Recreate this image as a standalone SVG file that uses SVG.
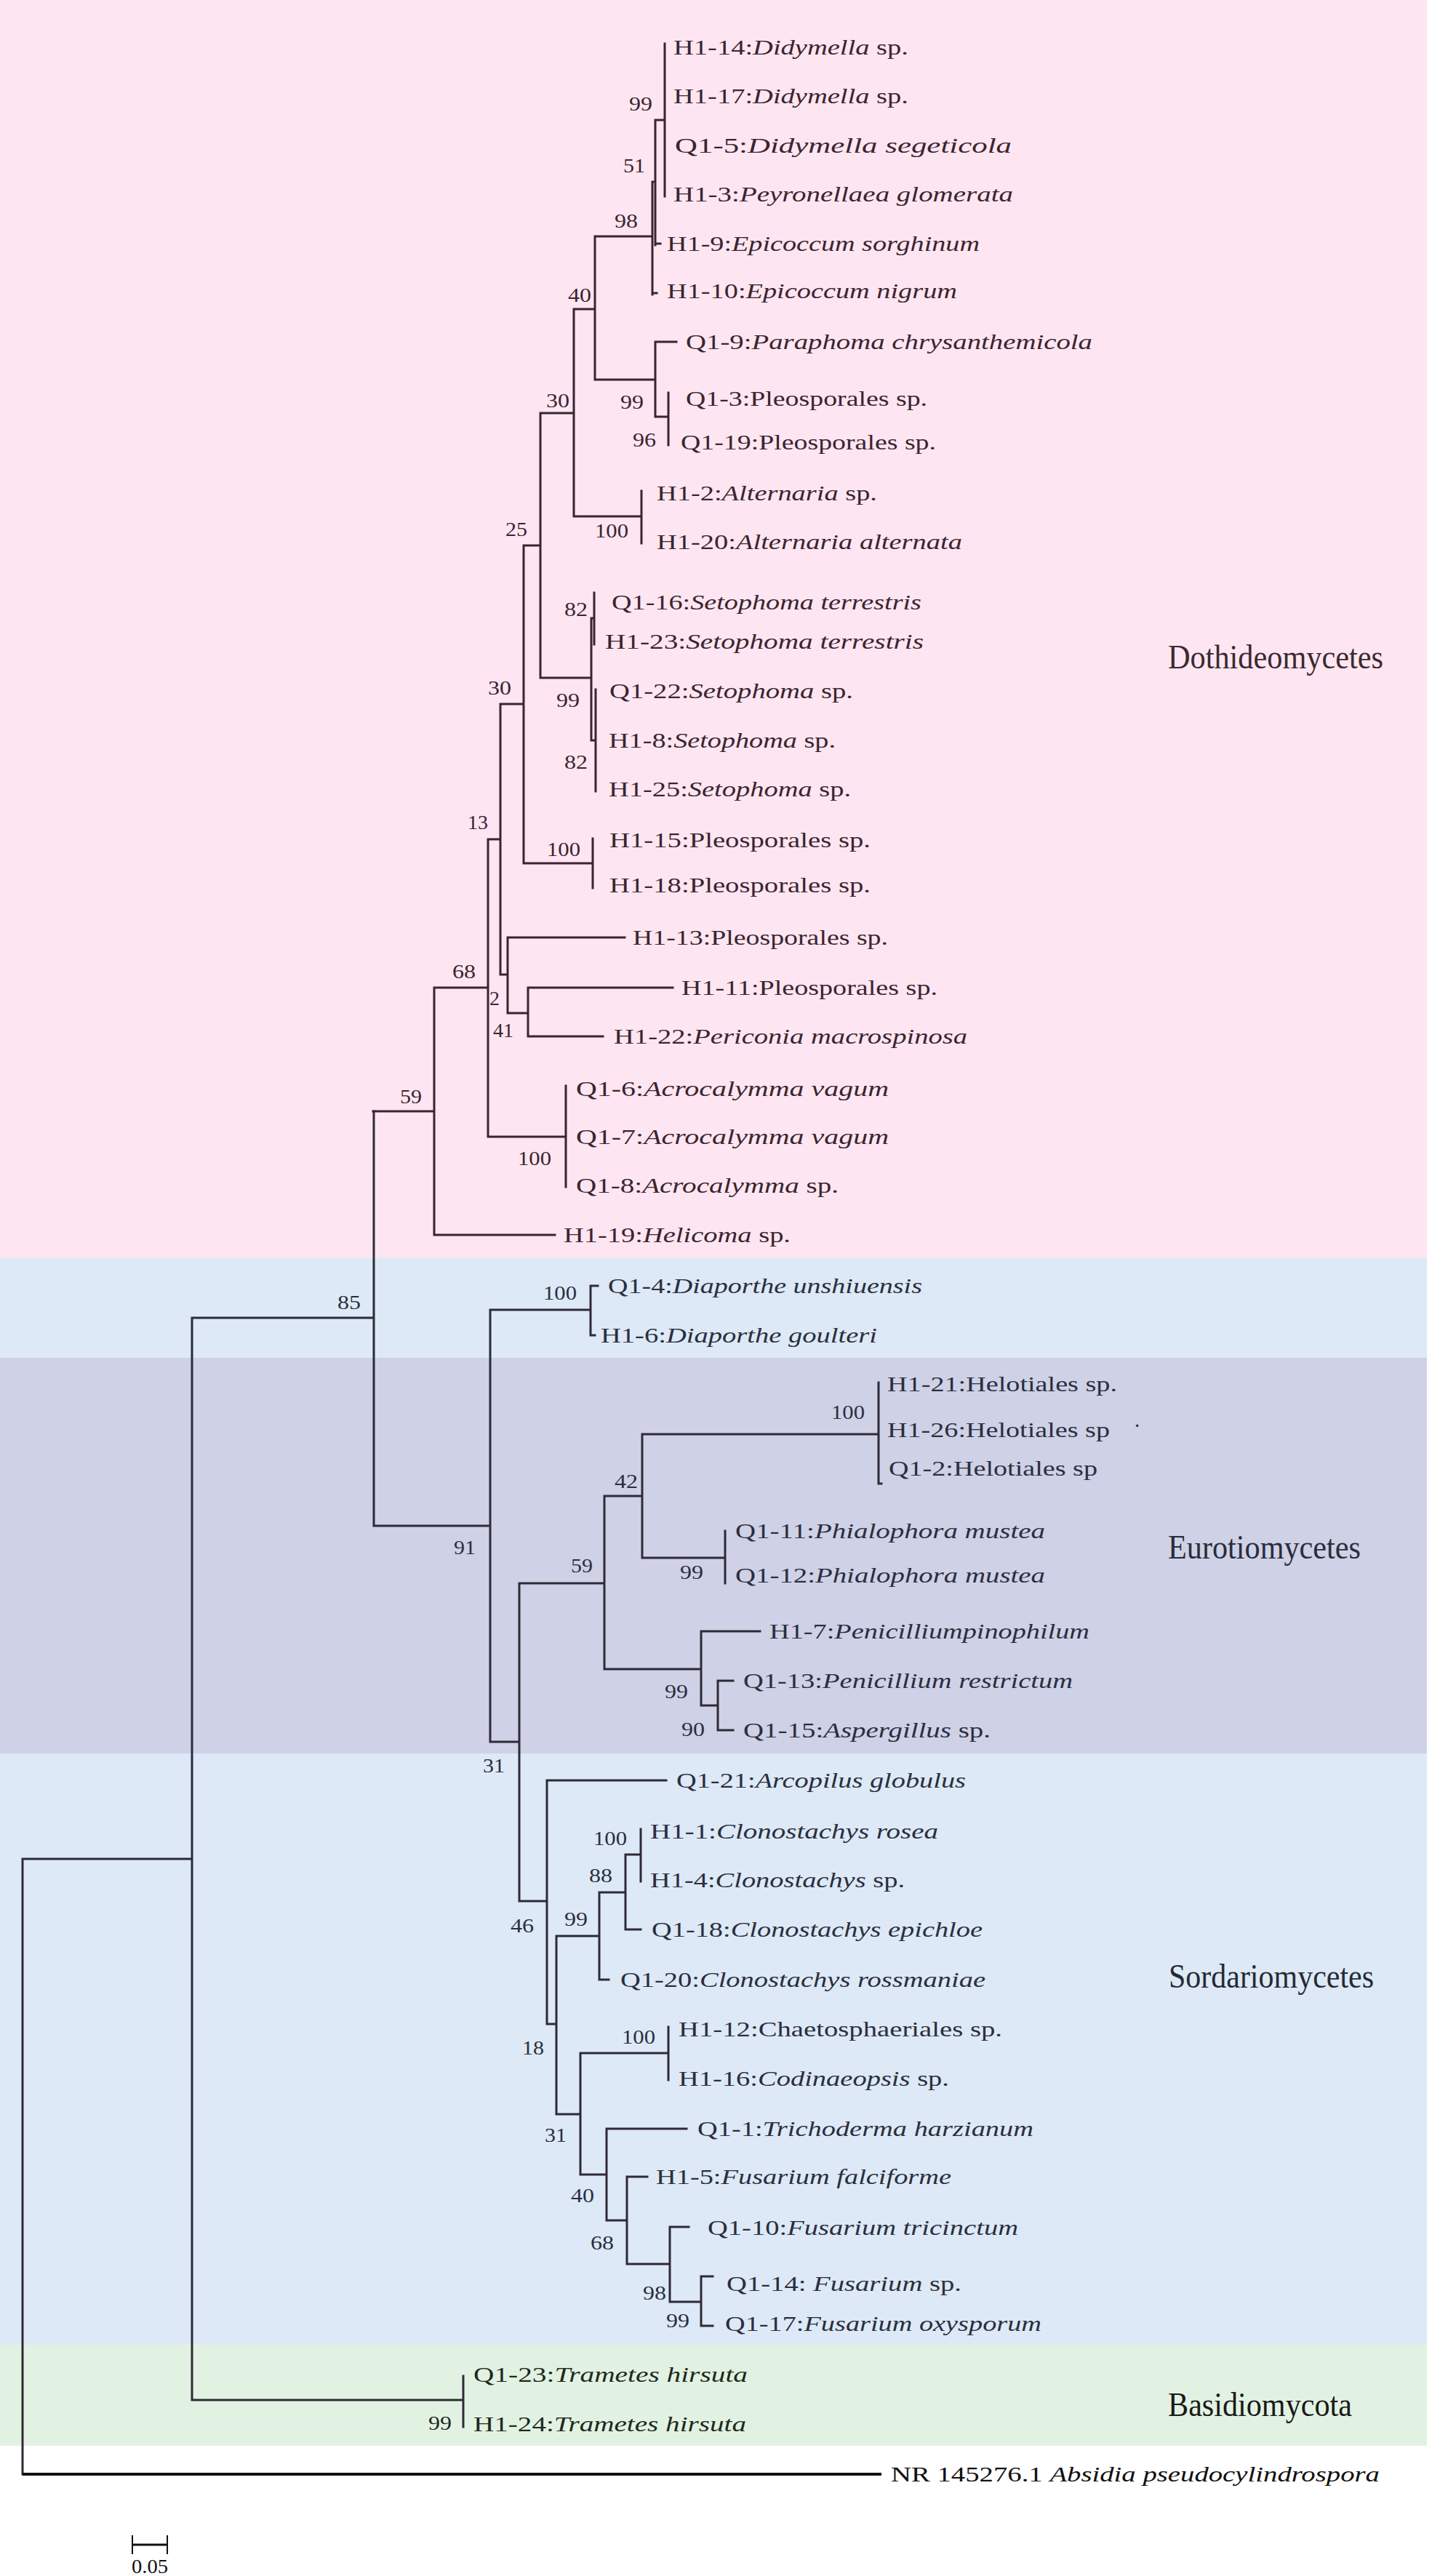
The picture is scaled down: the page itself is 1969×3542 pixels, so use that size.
<svg xmlns="http://www.w3.org/2000/svg" width="1969" height="3542" viewBox="0 0 1969 3542">
<style>
.br{fill:none;stroke:#2e2a36;stroke-width:3;stroke-linecap:square}
.brd{fill:none;stroke:#3a2430;stroke-width:3;stroke-linecap:square}
.lf{font-family:"Liberation Serif","Times New Roman",serif;font-size:29px;fill:#2a2f3f}
.lfd{font-family:"Liberation Serif","Times New Roman",serif;font-size:29px;fill:#3b2530}
.bs{font-family:"Liberation Serif","Times New Roman",serif;font-size:27px;fill:#2a2f3f;text-anchor:middle}
.bsd{font-family:"Liberation Serif","Times New Roman",serif;font-size:27px;fill:#3b2530;text-anchor:middle}
.cl{font-family:"Liberation Serif","Times New Roman",serif;font-size:47px;fill:#2a2d3a}
.i{font-style:italic}
</style>
<g id="background">
<rect x="0" y="0" width="1962" height="1730" fill="#fde6f1"/>
<rect x="0" y="1730" width="1962" height="137" fill="#dde9f6"/>
<rect x="0" y="1867" width="1962" height="544" fill="#cfd1e6"/>
<rect x="0" y="2411" width="1962" height="813" fill="#dde9f6"/>
<rect x="0" y="3224" width="1962" height="139" fill="#e2f2e2"/>
</g>
<g id="connectors">
<path class="brd" d="M901 165H914M914 60V270M897 250H901M901 165V337M901 335H908M818 325H897M897 250V405M897 403H903M791 425H818M818 325V522M818 522H901M901 470V573M901 470H930M901 573H919M919 540V612M743 568H789M789 425V710M789 710H882M882 675V747M721 750H743M743 568V932M743 932H813M813 850V1018M813 850H817M817 815V886M813 1018H819M819 948V1088M690 968H720M720 750V1187M720 1187H815M815 1153V1221M671 1154H688M688 968V1340M688 1340H698M698 1289V1393M698 1289H859M698 1393H726M726 1358V1425M726 1358H925M726 1425H829M597 1358H671M671 1154V1563M671 1563H778M778 1493V1632M513 1528H597M597 1358V1698M597 1698H763"/>
<path class="br" d="M264 1812H514M514 1528V2098M514 2098H674M674 1801V2395M674 1801H812M812 1768V1836M812 1768H822M812 1836H818M674 2395H714M714 2177V2614M714 2177H831M831 2057V2295M831 2057H883M883 1972V2142M883 1972H1208M1208 1901V2040M1208 2040H1212M883 2142H997M997 2105V2177M831 2295H964M964 2243V2345M964 2243H1045M964 2345H987M987 2311V2379M987 2311H1008M987 2379H1008M714 2614H752M752 2448V2783M752 2448H916M752 2783H765M765 2662V2907M765 2662H824M824 2602V2722M824 2722H837M824 2602H860M860 2550V2653M860 2653H881M860 2550H881M881 2515V2587M765 2907H798M798 2823V2990M798 2823H919M919 2787V2860M798 2990H834M834 2927V3053M834 2927H944M834 3053H862M862 2993V3113M862 2993H890M862 3113H921M921 3062V3165M921 3062H947M921 3165H964M964 3130V3198M964 3130H980M964 3198H980M264 3300H637M637 3267V3337M31 2556H264M264 1812V3300M31 2556V3402"/>
<path d="M31 3402H1212" fill="none" stroke="#111" stroke-width="4"/>
</g>
<g id="leaves-dothideomycetes">
<text id="n-H1-14" class="lfd" x="926" y="75" textLength="323" lengthAdjust="spacingAndGlyphs">H1-14:<tspan class="i">Didymella</tspan> sp.</text>
<text id="n-H1-17" class="lfd" x="926" y="142" textLength="323" lengthAdjust="spacingAndGlyphs">H1-17:<tspan class="i">Didymella</tspan> sp.</text>
<text id="n-Q1-5" class="lfd" x="928" y="210" textLength="463" lengthAdjust="spacingAndGlyphs">Q1-5:<tspan class="i">Didymella segeticola</tspan></text>
<text id="n-H1-3" class="lfd" x="926" y="277" textLength="467" lengthAdjust="spacingAndGlyphs">H1-3:<tspan class="i">Peyronellaea glomerata</tspan></text>
<text id="n-H1-9" class="lfd" x="917" y="345" textLength="430" lengthAdjust="spacingAndGlyphs">H1-9:<tspan class="i">Epicoccum sorghinum</tspan></text>
<text id="n-H1-10" class="lfd" x="917" y="410" textLength="399" lengthAdjust="spacingAndGlyphs">H1-10:<tspan class="i">Epicoccum nigrum</tspan></text>
<text id="n-Q1-9" class="lfd" x="943" y="480" textLength="559" lengthAdjust="spacingAndGlyphs">Q1-9:<tspan class="i">Paraphoma chrysanthemicola</tspan></text>
<text id="n-Q1-3" class="lfd" x="943" y="558" textLength="332" lengthAdjust="spacingAndGlyphs">Q1-3:Pleosporales sp.</text>
<text id="n-Q1-19" class="lfd" x="936" y="618" textLength="351" lengthAdjust="spacingAndGlyphs">Q1-19:Pleosporales sp.</text>
<text id="n-H1-2" class="lfd" x="903" y="688" textLength="303" lengthAdjust="spacingAndGlyphs">H1-2:<tspan class="i">Alternaria</tspan> sp.</text>
<text id="n-H1-20" class="lfd" x="903" y="755" textLength="420" lengthAdjust="spacingAndGlyphs">H1-20:<tspan class="i">Alternaria alternata</tspan></text>
<text id="n-Q1-16" class="lfd" x="841" y="838" textLength="426" lengthAdjust="spacingAndGlyphs">Q1-16:<tspan class="i">Setophoma terrestris</tspan></text>
<text id="n-H1-23" class="lfd" x="832" y="892" textLength="438" lengthAdjust="spacingAndGlyphs">H1-23:<tspan class="i">Setophoma terrestris</tspan></text>
<text id="n-Q1-22" class="lfd" x="838" y="960" textLength="335" lengthAdjust="spacingAndGlyphs">Q1-22:<tspan class="i">Setophoma</tspan> sp.</text>
<text id="n-H1-8" class="lfd" x="837" y="1028" textLength="312" lengthAdjust="spacingAndGlyphs">H1-8:<tspan class="i">Setophoma</tspan> sp.</text>
<text id="n-H1-25" class="lfd" x="837" y="1095" textLength="333" lengthAdjust="spacingAndGlyphs">H1-25:<tspan class="i">Setophoma</tspan> sp.</text>
<text id="n-H1-15" class="lfd" x="838" y="1165" textLength="359" lengthAdjust="spacingAndGlyphs">H1-15:Pleosporales sp.</text>
<text id="n-H1-18" class="lfd" x="838" y="1227" textLength="359" lengthAdjust="spacingAndGlyphs">H1-18:Pleosporales sp.</text>
<text id="n-H1-13" class="lfd" x="870" y="1299" textLength="351" lengthAdjust="spacingAndGlyphs">H1-13:Pleosporales sp.</text>
<text id="n-H1-11" class="lfd" x="937" y="1368" textLength="352" lengthAdjust="spacingAndGlyphs">H1-11:Pleosporales sp.</text>
<text id="n-H1-22" class="lfd" x="844" y="1435" textLength="486" lengthAdjust="spacingAndGlyphs">H1-22:<tspan class="i">Periconia macrospinosa</tspan></text>
<text id="n-Q1-6" class="lfd" x="792" y="1507" textLength="430" lengthAdjust="spacingAndGlyphs">Q1-6:<tspan class="i">Acrocalymma vagum</tspan></text>
<text id="n-Q1-7" class="lfd" x="792" y="1573" textLength="430" lengthAdjust="spacingAndGlyphs">Q1-7:<tspan class="i">Acrocalymma vagum</tspan></text>
<text id="n-Q1-8" class="lfd" x="792" y="1640" textLength="361" lengthAdjust="spacingAndGlyphs">Q1-8:<tspan class="i">Acrocalymma</tspan> sp.</text>
<text id="n-H1-19" class="lfd" x="775" y="1708" textLength="312" lengthAdjust="spacingAndGlyphs">H1-19:<tspan class="i">Helicoma</tspan> sp.</text>
</g>
<g id="leaves-other">
<text id="n-Q1-4" class="lf" x="836" y="1778" textLength="432" lengthAdjust="spacingAndGlyphs">Q1-4:<tspan class="i">Diaporthe unshiuensis</tspan></text>
<text id="n-H1-6" class="lf" x="826" y="1846" textLength="380" lengthAdjust="spacingAndGlyphs">H1-6:<tspan class="i">Diaporthe goulteri</tspan></text>
<text id="n-H1-21" class="lf" x="1220" y="1913" textLength="316" lengthAdjust="spacingAndGlyphs">H1-21:Helotiales sp.</text>
<text id="n-H1-26" class="lf" x="1220" y="1976" textLength="306" lengthAdjust="spacingAndGlyphs">H1-26:Helotiales sp</text>
<text id="dot" class="lf" x="1560" y="1962">.</text>
<text id="n-Q1-2" class="lf" x="1222" y="2029" textLength="287" lengthAdjust="spacingAndGlyphs">Q1-2:Helotiales sp</text>
<text id="n-Q1-11" class="lf" x="1011" y="2115" textLength="426" lengthAdjust="spacingAndGlyphs">Q1-11:<tspan class="i">Phialophora mustea</tspan></text>
<text id="n-Q1-12" class="lf" x="1011" y="2176" textLength="426" lengthAdjust="spacingAndGlyphs">Q1-12:<tspan class="i">Phialophora mustea</tspan></text>
<text id="n-H1-7" class="lf" x="1058" y="2253" textLength="440" lengthAdjust="spacingAndGlyphs">H1-7:<tspan class="i">Penicilliumpinophilum</tspan></text>
<text id="n-Q1-13" class="lf" x="1022" y="2321" textLength="453" lengthAdjust="spacingAndGlyphs">Q1-13:<tspan class="i">Penicillium restrictum</tspan></text>
<text id="n-Q1-15" class="lf" x="1022" y="2389" textLength="340" lengthAdjust="spacingAndGlyphs">Q1-15:<tspan class="i">Aspergillus</tspan> sp.</text>
<text id="n-Q1-21" class="lf" x="930" y="2458" textLength="398" lengthAdjust="spacingAndGlyphs">Q1-21:<tspan class="i">Arcopilus globulus</tspan></text>
<text id="n-H1-1" class="lf" x="894" y="2528" textLength="396" lengthAdjust="spacingAndGlyphs">H1-1:<tspan class="i">Clonostachys rosea</tspan></text>
<text id="n-H1-4" class="lf" x="894" y="2595" textLength="350" lengthAdjust="spacingAndGlyphs">H1-4:<tspan class="i">Clonostachys</tspan> sp.</text>
<text id="n-Q1-18" class="lf" x="896" y="2663" textLength="455" lengthAdjust="spacingAndGlyphs">Q1-18:<tspan class="i">Clonostachys epichloe</tspan></text>
<text id="n-Q1-20" class="lf" x="853" y="2732" textLength="502" lengthAdjust="spacingAndGlyphs">Q1-20:<tspan class="i">Clonostachys rossmaniae</tspan></text>
<text id="n-H1-12" class="lf" x="933" y="2800" textLength="445" lengthAdjust="spacingAndGlyphs">H1-12:Chaetosphaeriales sp.</text>
<text id="n-H1-16" class="lf" x="933" y="2868" textLength="372" lengthAdjust="spacingAndGlyphs">H1-16:<tspan class="i">Codinaeopsis</tspan> sp.</text>
<text id="n-Q1-1" class="lf" x="959" y="2937" textLength="462" lengthAdjust="spacingAndGlyphs">Q1-1:<tspan class="i">Trichoderma harzianum</tspan></text>
<text id="n-H1-5" class="lf" x="902" y="3003" textLength="406" lengthAdjust="spacingAndGlyphs">H1-5:<tspan class="i">Fusarium falciforme</tspan></text>
<text id="n-Q1-10" class="lf" x="973" y="3073" textLength="427" lengthAdjust="spacingAndGlyphs">Q1-10:<tspan class="i">Fusarium tricinctum</tspan></text>
<text id="n-Q1-14" class="lf" x="999" y="3150" textLength="323" lengthAdjust="spacingAndGlyphs">Q1-14: <tspan class="i">Fusarium</tspan> sp.</text>
<text id="n-Q1-17" class="lf" x="997" y="3205" textLength="435" lengthAdjust="spacingAndGlyphs">Q1-17:<tspan class="i">Fusarium oxysporum</tspan></text>
<text id="n-Q1-23" class="lf" x="651" y="3275" textLength="377" lengthAdjust="spacingAndGlyphs" style="fill:#1e2a1e">Q1-23:<tspan class="i">Trametes hirsuta</tspan></text>
<text id="n-H1-24" class="lf" x="651" y="3343" textLength="375" lengthAdjust="spacingAndGlyphs" style="fill:#1e2a1e">H1-24:<tspan class="i">Trametes hirsuta</tspan></text>
<text id="n-NR" class="lf" x="1225" y="3412" textLength="672" lengthAdjust="spacingAndGlyphs" style="fill:#111">NR 145276.1 <tspan class="i">Absidia pseudocylindrospora</tspan></text>
</g>
<g id="bootstrap">
<text class="bsd" x="881" y="152" textLength="32" lengthAdjust="spacingAndGlyphs">99</text>
<text class="bsd" x="872" y="237" textLength="30" lengthAdjust="spacingAndGlyphs">51</text>
<text class="bsd" x="861" y="313" textLength="32" lengthAdjust="spacingAndGlyphs">98</text>
<text class="bsd" x="797" y="415" textLength="32" lengthAdjust="spacingAndGlyphs">40</text>
<text class="bsd" x="869" y="562" textLength="32" lengthAdjust="spacingAndGlyphs">99</text>
<text class="bsd" x="886" y="614" textLength="32" lengthAdjust="spacingAndGlyphs">96</text>
<text class="bsd" x="767" y="560" textLength="32" lengthAdjust="spacingAndGlyphs">30</text>
<text class="bsd" x="841" y="739" textLength="46" lengthAdjust="spacingAndGlyphs">100</text>
<text class="bsd" x="710" y="737" textLength="30" lengthAdjust="spacingAndGlyphs">25</text>
<text class="bsd" x="792" y="847" textLength="32" lengthAdjust="spacingAndGlyphs">82</text>
<text class="bsd" x="781" y="972" textLength="32" lengthAdjust="spacingAndGlyphs">99</text>
<text class="bsd" x="792" y="1057" textLength="32" lengthAdjust="spacingAndGlyphs">82</text>
<text class="bsd" x="687" y="955" textLength="32" lengthAdjust="spacingAndGlyphs">30</text>
<text class="bsd" x="775" y="1177" textLength="46" lengthAdjust="spacingAndGlyphs">100</text>
<text class="bsd" x="657" y="1140" textLength="28" lengthAdjust="spacingAndGlyphs">13</text>
<text class="bsd" x="638" y="1345" textLength="32" lengthAdjust="spacingAndGlyphs">68</text>
<text class="bsd" x="680" y="1382" textLength="14" lengthAdjust="spacingAndGlyphs">2</text>
<text class="bsd" x="692" y="1426" textLength="28" lengthAdjust="spacingAndGlyphs">41</text>
<text class="bsd" x="565" y="1517" textLength="30" lengthAdjust="spacingAndGlyphs">59</text>
<text class="bsd" x="735" y="1602" textLength="46" lengthAdjust="spacingAndGlyphs">100</text>
<text class="bs" x="480" y="1800" textLength="32" lengthAdjust="spacingAndGlyphs">85</text>
<text class="bs" x="639" y="2137" textLength="30" lengthAdjust="spacingAndGlyphs">91</text>
<text class="bs" x="770" y="1787" textLength="46" lengthAdjust="spacingAndGlyphs">100</text>
<text class="bs" x="861" y="2046" textLength="32" lengthAdjust="spacingAndGlyphs">42</text>
<text class="bs" x="1166" y="1951" textLength="46" lengthAdjust="spacingAndGlyphs">100</text>
<text class="bs" x="800" y="2162" textLength="30" lengthAdjust="spacingAndGlyphs">59</text>
<text class="bs" x="951" y="2171" textLength="32" lengthAdjust="spacingAndGlyphs">99</text>
<text class="bs" x="930" y="2335" textLength="32" lengthAdjust="spacingAndGlyphs">99</text>
<text class="bs" x="953" y="2387" textLength="32" lengthAdjust="spacingAndGlyphs">90</text>
<text class="bs" x="679" y="2437" textLength="30" lengthAdjust="spacingAndGlyphs">31</text>
<text class="bs" x="839" y="2537" textLength="46" lengthAdjust="spacingAndGlyphs">100</text>
<text class="bs" x="826" y="2588" textLength="32" lengthAdjust="spacingAndGlyphs">88</text>
<text class="bs" x="792" y="2648" textLength="32" lengthAdjust="spacingAndGlyphs">99</text>
<text class="bs" x="718" y="2657" textLength="32" lengthAdjust="spacingAndGlyphs">46</text>
<text class="bs" x="733" y="2825" textLength="30" lengthAdjust="spacingAndGlyphs">18</text>
<text class="bs" x="878" y="2810" textLength="46" lengthAdjust="spacingAndGlyphs">100</text>
<text class="bs" x="764" y="2945" textLength="30" lengthAdjust="spacingAndGlyphs">31</text>
<text class="bs" x="801" y="3028" textLength="32" lengthAdjust="spacingAndGlyphs">40</text>
<text class="bs" x="828" y="3093" textLength="32" lengthAdjust="spacingAndGlyphs">68</text>
<text class="bs" x="900" y="3162" textLength="32" lengthAdjust="spacingAndGlyphs">98</text>
<text class="bs" x="932" y="3200" textLength="32" lengthAdjust="spacingAndGlyphs">99</text>
<text class="bs" x="605" y="3341" textLength="32" lengthAdjust="spacingAndGlyphs" style="fill:#1e2a1e">99</text>
</g>
<g id="class-labels">
<text id="c-doth" class="cl" x="1606" y="919" textLength="296" lengthAdjust="spacingAndGlyphs" style="fill:#3a2a30">Dothideomycetes</text>
<text id="c-euro" class="cl" x="1606" y="2143" textLength="265" lengthAdjust="spacingAndGlyphs">Eurotiomycetes</text>
<text id="c-sord" class="cl" x="1607" y="2733" textLength="282" lengthAdjust="spacingAndGlyphs" style="fill:#262a35">Sordariomycetes</text>
<text id="c-basi" class="cl" x="1606" y="3322" textLength="253" lengthAdjust="spacingAndGlyphs" style="fill:#1a1a1a">Basidiomycota</text>
</g>
<g id="scale-bar">
<path d="M182 3499H230" fill="none" stroke="#111" stroke-width="3"/>
<path d="M182 3486V3512M230 3486V3512" fill="none" stroke="#111" stroke-width="2"/>
<text x="206" y="3538" font-family="Liberation Serif, Times New Roman, serif" font-size="27" text-anchor="middle" textLength="50" lengthAdjust="spacingAndGlyphs" fill="#111">0.05</text>
</g>
</svg>
